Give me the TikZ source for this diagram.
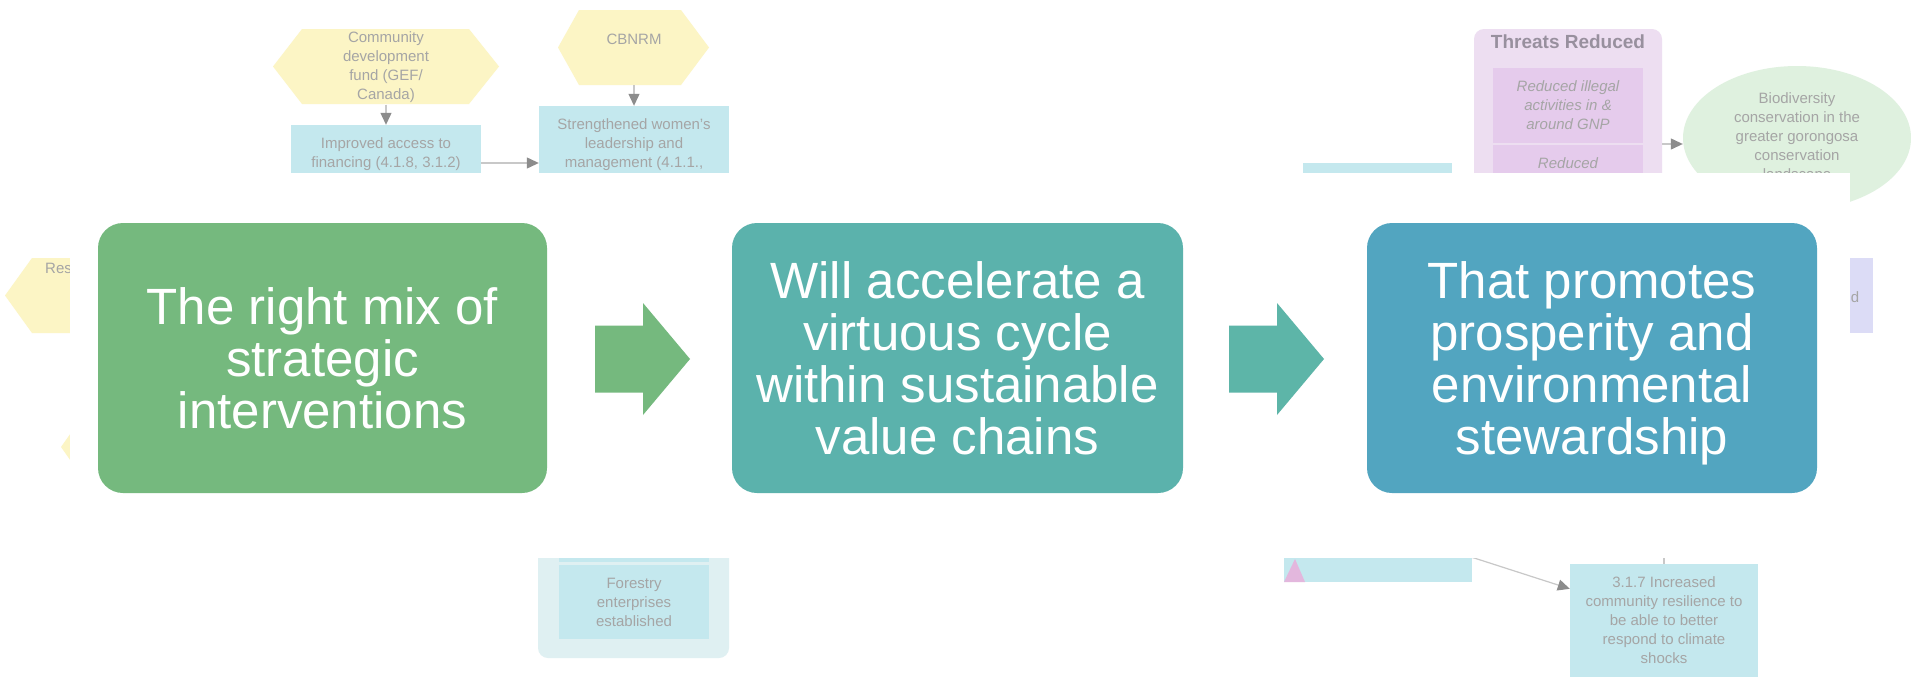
\documentclass[tikz,border=0pt]{standalone}
\usepackage{fontspec}
\setmainfont{Liberation Sans}
\usetikzlibrary{shapes.geometric,arrows.meta}

\definecolor{boxgreen}{RGB}{117,185,126}
\definecolor{boxteal}{RGB}{91,178,172}
\definecolor{boxblue}{RGB}{82,165,192}
\definecolor{arrteal}{RGB}{93,181,168}
\definecolor{bgyellow}{RGB}{252,245,197}
\definecolor{bgcyan}{RGB}{196,232,238}
\definecolor{bgtext}{RGB}{165,165,165}
\definecolor{bgtitle}{RGB}{152,144,158}
\definecolor{bgline}{RGB}{200,200,200}
\definecolor{bghead}{RGB}{140,140,140}
\definecolor{bgpurple}{RGB}{237,222,241}
\definecolor{bgpurpleinner}{RGB}{229,203,236}
\definecolor{bggreen}{RGB}{223,241,223}
\definecolor{bglav}{RGB}{220,220,246}
\definecolor{bgcyanlight}{RGB}{223,240,242}
\definecolor{bgpink}{RGB}{227,183,221}

\begin{document}
\begin{tikzpicture}[x=1pt,y=-1pt,
  bgtxt/.style={text=bgtext, font=\fontsize{15}{19}\selectfont, align=center, inner sep=0pt},
  bgbox/.style={fill=bgcyan, bgtxt},
  bgplain/.style={inner sep=0pt},
  bgarrow/.style={draw=bgline, line width=1.2pt, -{Triangle[length=12pt,width=11pt,color=bghead]}},
  mainbox/.style={rounded corners=25pt, text=white, align=center, inner sep=0pt,
    font=\fontsize{51}{52}\selectfont, minimum width=449pt, minimum height=270pt},
  blockarrow/.style={insert path={(0,-33.5) -- (48,-33.5) -- (48,-56) -- (95,0) -- (48,56) -- (48,33.5) -- (0,33.5) -- cycle}}
]
\useasboundingbox (0,0) rectangle (1911,680);
\fill[white] (0,0) rectangle (1911,680);

% ---------- faded background diagram ----------
% top-left hexagon and box
\fill[bgyellow] (273,66.5) -- (302,29) -- (469,29) -- (499,66.5) -- (469,104) -- (302,104) -- cycle;
\node[bgtxt, minimum width=226pt, minimum height=75pt] (hexA) at (386,67) {Community\\development\\fund (GEF/\\Canada)};
\node[bgbox, minimum width=190pt, minimum height=58pt] (imp) at (386,154) {Improved access to\\financing (4.1.8, 3.1.2)};
\draw[bgarrow] (hexA.south) -- (imp.north);

% CBNRM hexagon and box
\fill[bgyellow] (558,47.5) -- (579,10) -- (681,10) -- (709,47.5) -- (681,85) -- (579,85) -- cycle;
\node[bgtxt] (cbn) at (634,39) {CBNRM};
\coordinate (cbnb) at (634,85);
\node[bgbox, minimum width=190pt, minimum height=78pt] (str) at (634,145) {Strengthened women's\\leadership and\\management (4.1.1.,};
\draw[bgarrow] (cbnb) -- (str.north);
\draw[bgarrow] ([yshift=-9pt]imp.east) -- ([yshift=-9pt]imp.east -| str.west);

% left hexagons
\fill[bgyellow] (5,295.5) -- (32,258) -- (160,258) -- (187,295.5) -- (160,333) -- (32,333) -- cycle;
\node[bgtxt, anchor=west] (res) at (45,268) {Res};
\fill[bgyellow] (61,447) -- (73,430) -- (120,430) -- (120,464) -- (73,464) -- cycle;

% Threats reduced group
\node[bgplain, fill=bgpurple, rounded corners=10pt, minimum width=188pt, minimum height=230pt] (thr) at (1568,144) {};
\node[text=bgtitle, font=\bfseries\fontsize{19}{22}\selectfont, inner sep=0pt] (thrt) at (1568,42) {Threats Reduced};
\node[bgtxt, fill=bgpurpleinner, font=\itshape\fontsize{15}{19}\selectfont, minimum width=150pt, minimum height=75pt] (thr1) at (1568,105.5) {Reduced illegal\\activities in \&\\around GNP};
\node[bgtxt, fill=bgpurpleinner, font=\itshape\fontsize{15}{19}\selectfont, minimum width=150pt, minimum height=36pt] (thr2) at (1568,163) {Reduced};

% biodiversity ellipse
\node[ellipse, bgtxt, fill=bggreen, minimum width=228pt, minimum height=144pt] (bio) at (1797,138) {Biodiversity\\conservation in the\\greater gorongosa\\conservation\\landscape};
\draw[bgarrow] (thr.east) -- (thr.east -| bio.west);

% other background boxes
\node[bgplain, fill=bgcyan, minimum width=149pt, minimum height=40pt] (cy1) at (1377.5,183) {};
\node[bgplain, fill=bglav, minimum width=100pt, minimum height=75pt] (lav) at (1823,295.5) {};
\node[bgtxt] (lavt) at (1855,297) {d};

% forestry group
\node[bgplain, fill=bgcyanlight, rounded corners=10pt, minimum width=191pt, minimum height=180pt] (forg) at (633.5,568) {};
\node[bgplain, fill=bgcyan, minimum width=150pt, minimum height=60pt] (for0) at (634,532) {};
\node[bgbox, minimum width=150pt, minimum height=74pt] (for1) at (634,602) {Forestry\\enterprises\\established};

% lower right
\node[bgplain, fill=bgcyan, minimum width=188pt, minimum height=82pt] (cy2) at (1378,541) {};
\fill[bgpink] (1284,582) -- (1305,582) -- (1295,559) -- cycle;
\node[bgbox, minimum width=188pt, minimum height=113pt] (r317) at (1664,620.5) {3.1.7 Increased\\community resilience to\\be able to better\\respond to climate\\shocks};
\coordinate (src) at (1440,547);
\draw[bgarrow] (src) -- ([yshift=-25pt]r317.north west);
\coordinate (vtop) at (1664,540);
\draw[draw=bgline, line width=1.2pt] (vtop) -- (r317.north);

% white band over the background
\fill[white] (70,173) rectangle (1850,558);

% ---------- main flow ----------
\node[mainbox, fill=boxgreen] (b1) at (322.5,358) {The right mix of\\strategic\\interventions};
\node[mainbox, fill=boxteal, minimum width=451pt] (b2) at (957.5,358) {Will accelerate a\\virtuous cycle\\within sustainable\\value chains};
\node[mainbox, fill=boxblue, minimum width=450pt, text depth=0pt] (b3) at (1592,358) {That promotes\\prosperity and\\environmental\\stewardship};
\coordinate (a1) at (595,359);
\coordinate (a2) at (1229,359);
\fill[boxgreen, shift={(a1)}, blockarrow];
\fill[arrteal, shift={(a2)}, blockarrow];
\end{tikzpicture}
\end{document}
